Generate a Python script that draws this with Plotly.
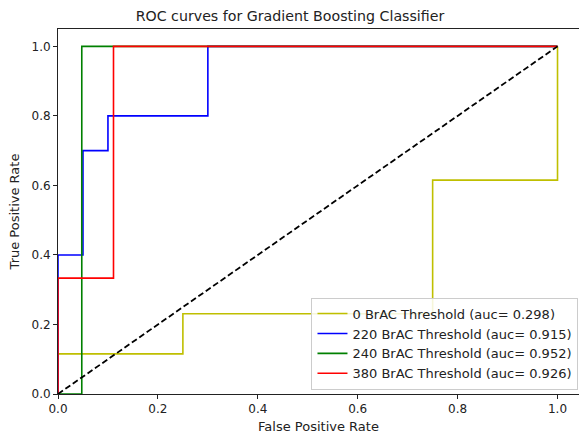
import plotly.graph_objects as go

# ROC curve data (false positive rate, true positive rate)
labels = ["0 BrAC Threshold (auc= 0.298)", "220 BrAC Threshold (auc= 0.915)",
          "240 BrAC Threshold (auc= 0.952)", "380 BrAC Threshold (auc= 0.926)"]
colors = ["#bfbf00", "#0000ff", "#008000", "#ff0000"]

fpr_0 = [0.0, 0.0, 0.25, 0.25, 0.75, 0.75, 1.0, 1.0]
tpr_0 = [0.0, 0.1154, 0.1154, 0.2308, 0.2308, 0.6154, 0.6154, 1.0]

fpr_220 = [0.0, 0.0, 0.05, 0.05, 0.1, 0.1, 0.3, 0.3, 1.0]
tpr_220 = [0.0, 0.4, 0.4, 0.7, 0.7, 0.8, 0.8, 1.0, 1.0]

fpr_240 = [0.0, 0.0476, 0.0476, 1.0]
tpr_240 = [0.0, 0.0, 1.0, 1.0]

fpr_380 = [0.0, 0.0, 0.1111, 0.1111, 1.0]
tpr_380 = [0.0, 0.3333, 0.3333, 1.0, 1.0]

diag_x = [0.0, 1.0]
diag_y = [0.0, 1.0]

xticks = [0.0, 0.2, 0.4, 0.6, 0.8, 1.0]
yticks = [0.0, 0.2, 0.4, 0.6, 0.8, 1.0]

series = [(fpr_0, tpr_0), (fpr_220, tpr_220), (fpr_240, tpr_240), (fpr_380, tpr_380)]

fig = go.Figure()
for (fx, ty), name, c in zip(series, labels, colors):
    fig.add_trace(go.Scatter(x=fx, y=ty, mode="lines", name=name,
                             line=dict(color=c, width=1.6)))
fig.add_trace(go.Scatter(x=diag_x, y=diag_y, mode="lines", showlegend=False,
                         line=dict(color="black", width=1.8, dash="6px,3px")))

font = "DejaVu Sans, sans-serif"
fig.update_layout(
    width=579, height=439,
    margin=dict(l=58, r=0, t=29, b=45),
    paper_bgcolor="white", plot_bgcolor="white",
    font=dict(family=font, size=12, color="#222"),
    title=dict(text="ROC curves for Gradient Boosting Classifier",
               x=290 / 579, xref="container", xanchor="center", y=1 - 16 / 439, yanchor="middle",
               font=dict(size=14.2, color="#222")),
    xaxis=dict(range=[0, 1.043], tickvals=xticks, tickformat=".1f",
               showgrid=False, zeroline=False, showline=True, linecolor="#222",
               linewidth=1, mirror=True, ticks="outside", ticklen=4, tickcolor="#222",
               tickfont=dict(size=12),
               title=dict(text="False Positive Rate", standoff=6, font=dict(size=13))),
    yaxis=dict(range=[0, 1.05], tickvals=yticks, tickformat=".1f",
               showgrid=False, zeroline=False, showline=True, linecolor="#222",
               linewidth=1, mirror=False, ticks="outside", ticklen=4, tickcolor="#222",
               tickfont=dict(size=12),
               title=dict(text="True Positive Rate", standoff=8, font=dict(size=13))),
    legend=dict(x=0.999, y=0.012, xanchor="right", yanchor="bottom",
                bgcolor="rgba(255,255,255,0.85)", bordercolor="#cccccc", borderwidth=1,
                font=dict(size=13, color="#222"), itemwidth=30, tracegroupgap=0),
    showlegend=True,
)

fig.write_html("out.html")
